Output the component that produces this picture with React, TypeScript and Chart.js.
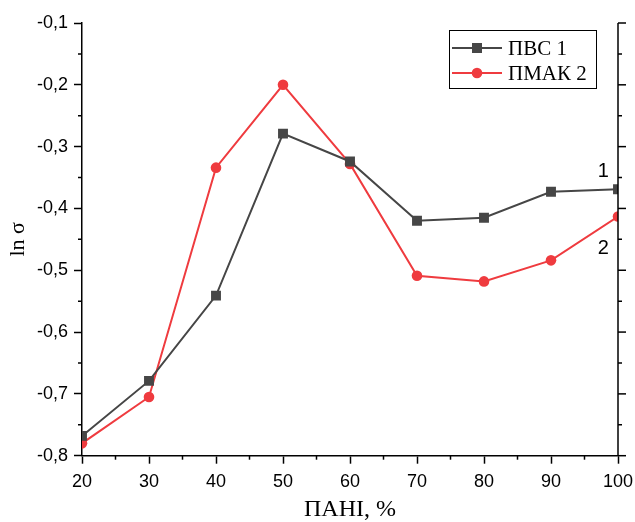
import React, { useEffect, useRef } from 'react';
import { Chart, registerables } from 'chart.js';

Chart.register(...registerables);

// ---- data ----
const xValues = [20, 30, 40, 50, 60, 70, 80, 90, 100];
const pvsValues = [-0.768, -0.679, -0.541, -0.279, -0.324, -0.42, -0.415, -0.373, -0.369];
const pmakValues = [-0.78, -0.705, -0.334, -0.2, -0.328, -0.509, -0.518, -0.484, -0.413];
const seriesNames = ['ПВС 1', 'ПМАК 2'];
const curveLabels = ['1', '2'];
const curveLabelX = [97.8, 97.8];
const curveLabelY = [-0.341, -0.464];
const xTitle = 'ПАНІ, %';
const yTitle = 'ln σ';
const xMin = 20, xMax = 100, xStep = 10;
const yMin = -0.8, yMax = -0.1, yStep = 0.1;

const darkColor = '#464646';
const redColor = '#ef3b3f';
const sansFont = "'Liberation Sans', Arial, sans-serif";
const serifFont = "'Liberation Serif', 'Times New Roman', serif";

const decoPlugin = {
  id: 'deco',
  afterDraw(chart: any) {
    const { ctx, chartArea } = chart;
    const xs = chart.scales.x;
    const ys = chart.scales.y;
    ctx.save();
    ctx.strokeStyle = '#000';
    ctx.lineWidth = 1.5;
    // right axis line
    ctx.beginPath();
    ctx.moveTo(chartArea.right, chartArea.top);
    ctx.lineTo(chartArea.right, chartArea.bottom);
    ctx.stroke();
    // y ticks (minor on left, major+minor on right)
    for (let v = yMin; v <= yMax + 1e-9; v += yStep / 2) {
      const idx = Math.round((v - yMin) / (yStep / 2));
      const major = idx % 2 === 0;
      const py = ys.getPixelForValue(v);
      ctx.beginPath();
      if (!major) {
        ctx.moveTo(chartArea.left - 4, py);
        ctx.lineTo(chartArea.left, py);
      }
      ctx.moveTo(chartArea.right, py);
      ctx.lineTo(chartArea.right + (major ? 8 : 4), py);
      ctx.stroke();
    }
    // x minor ticks
    for (let v = xMin + xStep / 2; v < xMax; v += xStep) {
      const px = xs.getPixelForValue(v);
      ctx.beginPath();
      ctx.moveTo(px, chartArea.bottom);
      ctx.lineTo(px, chartArea.bottom + 4);
      ctx.stroke();
    }
    // curve labels
    ctx.fillStyle = '#000';
    ctx.font = `20px ${sansFont}`;
    ctx.textAlign = 'center';
    ctx.textBaseline = 'middle';
    curveLabels.forEach((t, i) => {
      ctx.fillText(t, xs.getPixelForValue(curveLabelX[i]), ys.getPixelForValue(curveLabelY[i]));
    });
    // legend
    const bx = chartArea.right - 169;
    const by = chartArea.top + 7;
    const bw = 147;
    const bh = 58;
    ctx.fillStyle = '#fff';
    ctx.fillRect(bx, by, bw, bh);
    ctx.lineWidth = 1;
    ctx.strokeStyle = '#000';
    ctx.strokeRect(bx + 0.5, by + 0.5, bw, bh);
    const colors = [darkColor, redColor];
    chart.data.datasets.forEach((ds: any, i: number) => {
      const cy = by + 18 + i * 25;
      ctx.strokeStyle = colors[i];
      ctx.lineWidth = 2;
      ctx.beginPath();
      ctx.moveTo(bx + 3, cy);
      ctx.lineTo(bx + 53, cy);
      ctx.stroke();
      ctx.fillStyle = colors[i];
      if (i === 0) {
        ctx.fillRect(bx + 28 - 5, cy - 5, 10, 10);
      } else {
        ctx.beginPath();
        ctx.arc(bx + 28, cy, 5.3, 0, Math.PI * 2);
        ctx.fill();
      }
      ctx.fillStyle = '#000';
      ctx.font = `21px ${serifFont}`;
      ctx.textAlign = 'left';
      ctx.textBaseline = 'middle';
      ctx.fillText(ds.label, bx + 59, cy + 1);
    });
    ctx.restore();
  },
};

export default function App() {
  const ref = useRef<HTMLCanvasElement | null>(null);
  useEffect(() => {
    if (!ref.current) return;
    const chart = new Chart(ref.current, {
      type: 'line',
      data: {
        datasets: [
          {
            label: seriesNames[0],
            data: xValues.map((x, i) => ({ x, y: pvsValues[i] })),
            borderColor: darkColor,
            backgroundColor: darkColor,
            borderWidth: 2,
            pointStyle: 'rect',
            pointRadius: 7,
            pointBorderWidth: 0,
            clip: 0,
          },
          {
            label: seriesNames[1],
            data: xValues.map((x, i) => ({ x, y: pmakValues[i] })),
            borderColor: redColor,
            backgroundColor: redColor,
            borderWidth: 2,
            pointStyle: 'circle',
            pointRadius: 5.3,
            pointBorderWidth: 0,
            clip: 0,
          },
        ],
      },
      options: {
        animation: false,
        responsive: false,
        layout: { padding: { top: 23, right: 17, left: 0, bottom: 0 } },
        plugins: { legend: { display: false }, tooltip: { enabled: false } },
        scales: {
          x: {
            type: 'linear',
            min: xMin,
            max: xMax,
            afterFit: (s: any) => { s.height = 66.3; s.paddingLeft = 0; s.paddingRight = 0; },
            ticks: {
              stepSize: xStep,
              color: '#000',
              font: { family: sansFont, size: 18 },
              padding: 8,
              maxRotation: 0,
            },
            grid: { drawOnChartArea: false, drawTicks: true, tickLength: 8, tickColor: '#000', tickWidth: 1.5 },
            border: { display: true, color: '#000', width: 1.5 },
            title: {
              display: true,
              text: xTitle,
              color: '#000',
              font: { family: serifFont, size: 24, lineHeight: 1.0 },
              padding: { top: 0, bottom: 0 },
            },
          },
          y: {
            type: 'linear',
            min: yMin,
            max: yMax,
            afterFit: (s: any) => { s.width = 82; s.paddingTop = 0; s.paddingBottom = 0; },
            ticks: {
              stepSize: yStep,
              color: '#000',
              font: { family: sansFont, size: 18 },
              padding: 6,
              callback: (v: any) => Number(v).toFixed(1).replace('.', ','),
            },
            grid: { drawOnChartArea: false, drawTicks: true, tickLength: 8, tickColor: '#000', tickWidth: 1.5 },
            border: { display: true, color: '#000', width: 1.5 },
            title: {
              display: true,
              text: yTitle,
              color: '#000',
              font: { family: serifFont, size: 22 },
              padding: { top: 5, bottom: 0 },
            },
          },
        },
      },
      plugins: [decoPlugin],
    } as any);
    return () => chart.destroy();
  }, []);
  return (
    <div style={{ position: 'absolute', left: 0, top: 0, width: 635, height: 522 }}>
      <canvas ref={ref} width={635} height={522} style={{ width: 635, height: 522 }} />
    </div>
  );
}
